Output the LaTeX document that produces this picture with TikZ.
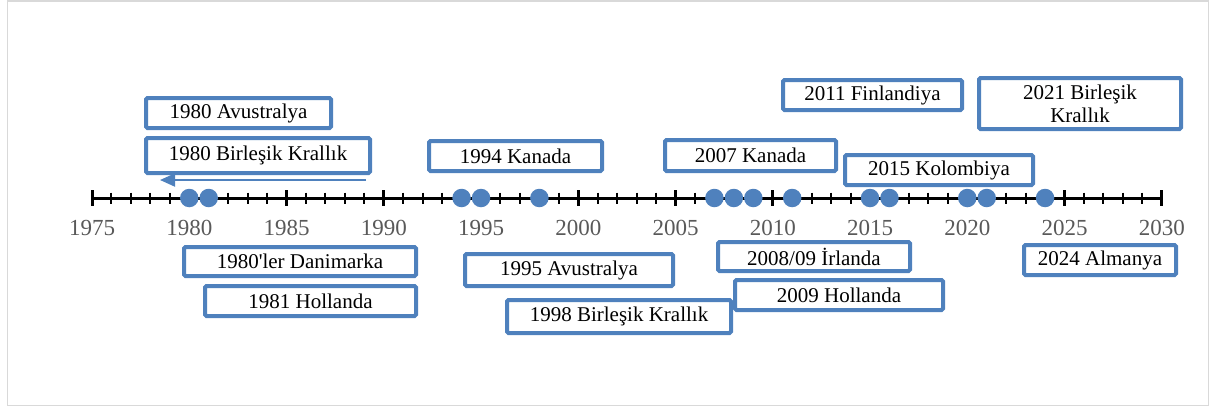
\documentclass[tikz,border=0pt]{standalone}
\usepackage{fontspec}
\setmainfont{Liberation Serif}
\newfontfamily\plainquote{Liberation Serif}[Ligatures=ResetAll]
\usepackage{xcolor}
\usetikzlibrary{arrows.meta,shapes,backgrounds}

\definecolor{boxblue}{RGB}{79,129,189}
\definecolor{labgray}{RGB}{89,89,89}
\definecolor{framegray}{RGB}{217,217,217}

\tikzset{
    event/.style={draw=boxblue, line width=4pt, fill=white, rounded corners=1.5pt,
        inner sep=0pt, align=center, font=\fontsize{21}{23}\selectfont},
    yeardot/.style={circle, fill=boxblue, minimum size=18.5pt, inner sep=0pt},
    yearlab/.style={text=labgray, inner sep=0pt, font=\fontsize{23}{25}\selectfont},
}

\begin{document}
\begin{tikzpicture}[x=1pt, y=-1pt]
    \useasboundingbox (0,0) rectangle (1210,407);
    % Frame
    \draw[framegray, line width=1.5pt] (7.5,1) rectangle (1208.5,405.5);

    % Axis
    \coordinate (axl) at (92,198);
    \coordinate (axr) at (1161.75,198);
    \draw[line width=3pt] (axl) -- (axr);

    % Ticks, one per year
    \foreach \y in {1975,...,2030} {
        \pgfmathsetmacro\xx{92+(\y-1975)*19.45}
        \draw[line width=2pt] (\xx,192.5) -- (\xx,203.5);
    }
    % Long ticks and labels
    \foreach \y in {1975,1980,...,2030} {
        \pgfmathsetmacro\xx{92+(\y-1975)*19.45}
        \draw[line width=3pt] (\xx,190) -- (\xx,206);
        \node[yearlab] (lab\y) at (\xx,228) {\y};
    }

    % Dots
    \foreach \y in {1980,1981,1994,1995,1998,2007,2008,2009,2011,2015,2016,2020,2021,2024} {
        \pgfmathsetmacro\xx{92+(\y-1975)*19.45}
        \node[yeardot] (dot\y) at (\xx,198) {};
    }

    % Events above the axis
    \node[event, minimum width=185pt, minimum height=30pt] (avus80) at (238.5,113) {1980 Avustralya};
    \node[event, minimum width=224pt, minimum height=35pt] (bk80) at (258,155.5) {1980 Birleşik Krallık};
    \node[event, minimum width=173pt, minimum height=30pt] (kan94) at (515.5,156) {1994 Kanada};
    \node[event, minimum width=171pt, minimum height=31pt] (kan07) at (750.5,155.5) {2007 Kanada};
    \node[event, minimum width=179pt, minimum height=30pt] (fin11) at (872.5,95) {2011 Finlandiya};
    \node[event, minimum width=202pt, minimum height=51pt] (bk21) at (1080,103.5) {2021 Birleşik\\Krallık};
    \node[event, minimum width=188pt, minimum height=30pt] (kol15) at (939,170) {2015 Kolombiya};

    % Arrow under 1980
    \coordinate (arrs) at (366,180);
    \coordinate (arre) at (160,180);
    \draw[boxblue, line width=2pt, -{Triangle[length=15pt,width=13pt]}] (arrs) -- (arre);

    % Events below the axis
    \node[event, minimum width=232pt, minimum height=29pt] (dan80) at (300,261.5) {1980{\plainquote'}ler Danimarka};
    \node[event, minimum width=211pt, minimum height=30pt] (hol81) at (310.5,301) {1981 Hollanda};
    \node[event, minimum width=208pt, minimum height=32pt] (avus95) at (569,270) {1995 Avustralya};
    \node[event, minimum width=208pt, minimum height=30pt] (hol09) at (839,295) {2009 Hollanda};
    \node[event, minimum width=224pt, minimum height=33pt] (bk98) at (619,316.5) {1998 Birleşik Krallık};
    \node[event, minimum width=192pt, minimum height=29pt] (irl09) at (814,256.5) {2008/09 İrlanda};
    \node[event, minimum width=152pt, minimum height=30pt] (alm24) at (1100,260) {2024 Almanya};
\end{tikzpicture}
\end{document}
